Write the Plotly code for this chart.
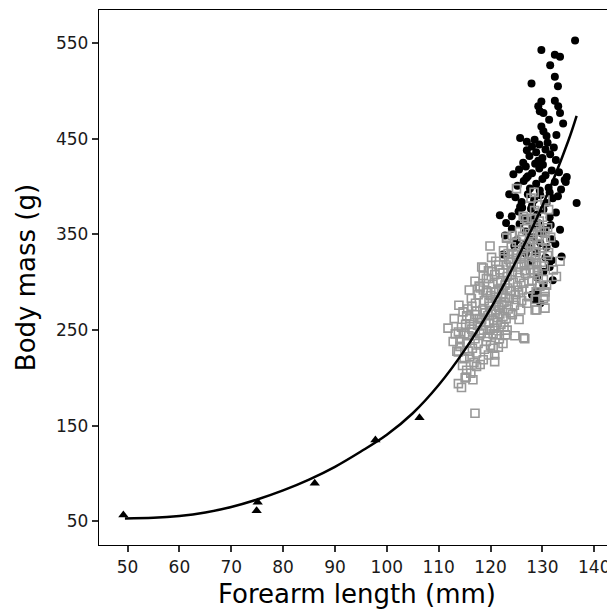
import plotly.graph_objects as go

# Triangles (small-bodied group)
tri_x = [49.2, 75.1, 74.9, 86.1, 97.8, 106.3]
tri_y = [56.6, 69.9, 61.1, 89.7, 135.0, 158.4]

# Fitted curve
fit_x = [49.5, 55, 60, 65, 70, 75, 80, 85, 90, 95, 100, 105, 110, 115, 120, 125, 130, 135, 136.6]
fit_y = [53, 53.6, 55.6, 59.3, 65, 72.8, 82.3, 93.6, 107, 123, 140.5, 163, 192.5, 229, 272.5, 323, 380, 448, 474]

# Grey open squares
sq_x = [117.0, 113.8, 115.1, 114.4, 116.6,
        115.4, 117.3, 114.6, 116.2, 118.0, 115.3, 113.5, 116.8,
        116.0, 118.6, 120.8, 117.3, 119.6, 114.9, 115.7, 113.8, 120.8, 112.8,
        114.1, 116.5, 117.6, 118.8, 120.0, 121.5, 119.2, 115.4, 122.4, 120.5,
        114.1, 115.8, 117.0, 118.2, 119.4, 120.5, 121.7, 124.7, 126.6, 122.9, 113.2, 116.6, 126.4,
        111.8, 113.8, 115.2, 116.4, 117.5, 118.6, 119.7, 120.8, 122.0, 123.2, 121.3, 114.4, 118.0,
        114.7, 116.0, 117.2, 118.3, 119.5, 120.6, 121.8, 123.0, 124.2, 125.5, 122.4, 113.0, 119.0, 115.4,
        113.9, 115.6, 117.1, 118.5, 119.8, 121.0, 122.2, 123.4, 124.6, 125.8, 128.6, 130.5, 121.6, 127.0, 116.4, 128.9,
        116.3, 117.6, 118.8, 120.0, 121.2, 122.4, 123.6, 124.8, 126.0, 127.3, 130.5, 122.9, 119.4, 125.4, 128.6, 130.2,
        115.9, 117.8, 119.2, 120.4, 121.6, 122.8, 124.0, 125.2, 126.4, 127.6, 130.8, 128.8, 123.3, 121.0, 129.5, 118.6, 130.5,
        117.0, 119.6, 120.8, 122.0, 123.2, 124.4, 125.6, 126.8, 128.0, 129.2, 132.7, 121.4, 118.6, 127.4, 130.2, 119.2,
        118.6, 119.6, 121.8, 123.0, 124.2, 125.4, 126.6, 127.8, 129.0, 130.2, 132.1, 133.4, 122.4, 125.9, 128.4, 118.3,
        121.0, 122.6, 123.8, 125.0, 126.2, 127.4, 128.6, 129.8, 131.0, 124.4, 127.9, 120.2,
        119.9, 122.5, 124.0, 125.2, 126.4, 127.6, 128.8, 130.0, 131.2, 123.4, 129.3,
        123.1, 125.0, 126.2, 127.4, 128.2, 129.4, 130.6, 124.2, 131.6, 123.1,
        126.6, 127.5, 128.6, 129.8, 131.0, 128.2, 125.6, 130.5,
        127.0, 127.9, 128.8, 130.0, 126.3, 129.4, 126.6,
        128.5, 129.2, 130.5, 128.4, 125.0, 127.8, 131.2,
        117.9, 119.1, 120.2, 121.4, 122.6, 123.8, 120.9, 119.7, 122.1, 123.7,
        124.9, 126.1, 125.2, 126.5, 127.7, 124.0, 128.9, 126.9, 125.8, 123.5,
        121.6, 120.3, 118.0, 117.3, 116.0, 115.0, 117.9, 119.9, 121.1, 122.6]
sq_y = [163, 194, 200, 190, 198,
        208, 212, 213, 205, 214, 201, 228, 216,
        222, 219, 217, 226, 224, 220, 228, 227, 224, 238,
        233, 231, 236, 230, 234, 232, 238, 237, 236, 231,
        240, 244, 241, 247, 243, 246, 241, 244, 241, 245, 246, 248, 242,
        252, 248, 256, 251, 255, 250, 257, 252, 256, 250, 258, 253, 258,
        269, 262, 266, 261, 265, 260, 267, 262, 266, 261, 264, 262, 268, 265,
        276, 272, 278, 271, 275, 270, 277, 272, 276, 271, 271, 273, 274, 278, 275, 271,
        283, 287, 281, 286, 280, 288, 283, 287, 281, 285, 285, 284, 289, 289, 282, 283,
        292, 296, 291, 298, 293, 297, 291, 295, 299, 293, 297, 290, 294, 290, 296, 292, 290,
        301, 304, 308, 302, 306, 300, 305, 309, 302, 307, 306, 300, 307, 301, 303, 304,
        315, 312, 313, 318, 311, 316, 312, 319, 313, 317, 313, 322, 310, 319, 310, 316,
        322, 327, 321, 325, 329, 322, 326, 321, 328, 329, 329, 326,
        338, 333, 337, 331, 335, 339, 332, 336, 331, 330, 339,
        346, 342, 348, 341, 345, 349, 343, 349, 347, 347,
        356, 351, 358, 353, 357, 351, 353, 353,
        365, 367, 361, 368, 369, 364, 367,
        375, 381, 386, 394, 398, 388, 376,
        262, 258, 270, 263, 279, 268, 284, 279, 292, 299,
        282, 292, 310, 318, 313, 316, 320, 337, 325, 324,
        318, 311, 294, 270, 256, 246, 246, 250, 245, 253]

# Black filled circles
dot_x = [136.3, 129.8, 132.4, 133.4, 131.5, 132.4, 127.9, 133.0,
         129.8, 129.2, 129.5, 132.4, 133.4, 130.2, 133.05,
         134.0, 129.8, 130.2, 130.8, 132.7, 131.3,
         125.7, 127.0, 128.5, 129.4, 131.0, 132.2, 128.0,
         126.3, 127.5, 128.8, 130.0, 131.5, 129.2, 127.0, 132.6, 130.6,
         124.4, 125.5, 126.8, 128.0, 129.4, 130.6, 131.8, 128.6, 133.2, 134.7, 127.2, 130.1, 134.3,
         125.2, 126.4, 127.6, 128.8, 130.0, 131.2, 132.4, 134.5, 129.5, 126.9, 133.6, 123.6,
         124.8, 126.0, 127.2, 128.4, 129.6, 130.8, 132.0, 133.0, 136.6, 125.7, 131.4, 128.0,
         121.8, 124.1, 125.4, 126.6, 127.8, 129.0, 130.2, 131.4, 132.6, 128.3, 126.1, 123.0,
         124.1, 125.6, 126.8, 128.0, 129.2, 130.4, 131.6, 133.4, 127.4, 129.9, 122.8,
         125.0, 126.6, 128.2, 129.6, 130.8, 131.8, 127.4, 132.5, 124.6,
         122.4, 131.8, 133.7, 128.9, 130.6, 127.8, 126.8,
         130.2, 131.4, 129.0, 132.0,
         128.9, 128.6, 129.6, 130.2, 128.0]
dot_y = [553, 543, 538, 536, 527, 515, 508, 505,
         489, 484, 479, 490, 477, 477, 484,
         466, 463, 458, 453, 454, 470,
         451, 447, 449, 444, 446, 441, 442,
         425, 432, 436, 430, 434, 427, 438, 428, 439,
         413, 418, 421, 414, 419, 412, 417, 424, 415, 410, 411, 423, 407,
         401, 406, 398, 403, 408, 399, 405, 405, 396, 409, 397, 392,
         389, 384, 392, 386, 391, 383, 388, 390, 383, 379, 394, 380,
         370, 369, 374, 367, 377, 371, 376, 368, 373, 366, 378, 362,
         356, 361, 353, 358, 362, 355, 360, 355, 364, 351, 349,
         344, 339, 347, 341, 337, 345, 336, 340, 338,
         329, 323, 327, 331, 326, 322, 330,
         311, 316, 305, 302,
         291, 282, 278, 297, 287]

x_ticks = [50, 60, 70, 80, 90, 100, 110, 120, 130, 140]
y_ticks = [50, 150, 250, 350, 450, 550]

fig = go.Figure()
fig.add_trace(go.Scatter(x=tri_x, y=tri_y, mode="markers",
                         marker=dict(symbol="triangle-up", size=9, color="black"),
                         showlegend=False))
fig.add_trace(go.Scatter(x=dot_x, y=dot_y, mode="markers",
                         marker=dict(symbol="circle", size=8, color="black"),
                         showlegend=False))
fig.add_trace(go.Scatter(x=sq_x, y=sq_y, mode="markers",
                         marker=dict(symbol="square-open", size=8, color="#999999",
                                     line=dict(width=1.6, color="#999999")),
                         showlegend=False))
fig.add_trace(go.Scatter(x=fit_x, y=fit_y, mode="lines",
                         line=dict(color="black", width=2.5, shape="spline", smoothing=1.0),
                         showlegend=False))

font = "DejaVu Sans"
# The page body has an 8px default margin; the figure is sized and offset so
# the plot area sits at the reference position in the 615x612 window and the
# panel runs to the window's right edge.
fig.update_layout(
    width=607, height=604,
    margin=dict(l=91, r=0, t=2, b=67),
    paper_bgcolor="white", plot_bgcolor="white",
    font=dict(family=font, color="black"),
    xaxis=dict(range=[44.5, 144.0], tickvals=x_ticks, ticktext=[str(v) for v in x_ticks],
               showgrid=False, zeroline=False, showline=True, linecolor="black", linewidth=1.3,
               mirror=True, ticks="outside", ticklen=6, tickwidth=2, tickcolor="#333333",
               tickfont=dict(size=17, family=font, color="#1a1a1a"),
               title=dict(text="Forearm length (mm)", font=dict(size=26, family=font), standoff=9),
               automargin=False),
    yaxis=dict(range=[25.2, 584.8], tickvals=y_ticks, ticktext=[str(v) for v in y_ticks],
               showgrid=False, zeroline=False, showline=True, linecolor="black", linewidth=1.3,
               mirror=False, ticks="outside", ticklen=6, tickwidth=2, tickcolor="#333333",
               tickfont=dict(size=17, family=font, color="#1a1a1a"),
               title=dict(text="Body mass (g)", font=dict(size=26, family=font), standoff=12),
               automargin=False),
)
fig.write_html("out.html")
